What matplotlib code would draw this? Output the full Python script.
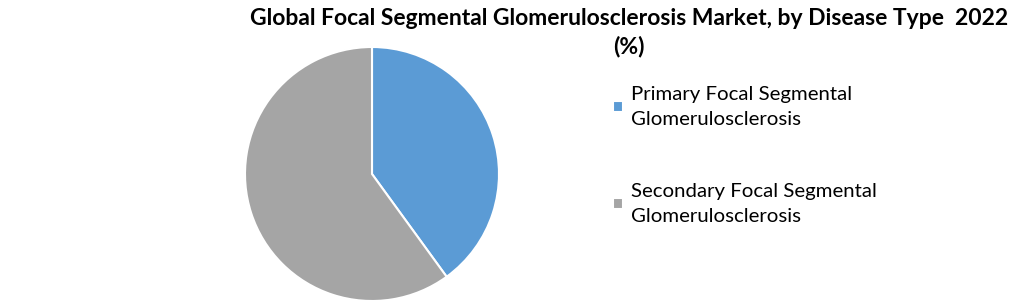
import matplotlib

matplotlib.use("Agg")
import matplotlib.pyplot as plt

TITLE = "Global Focal Segmental Glomerulosclerosis Market, by Disease Type  2022\n(%)"
LABELS = ["Primary Focal Segmental\nGlomerulosclerosis",
          "Secondary Focal Segmental\nGlomerulosclerosis"]
SHARES = [40.0, 60.0]
COLORS = ["#5b9bd5", "#a5a5a5"]

plt.rcParams["font.family"] = ["Lato", "DejaVu Sans"]

fig = plt.figure(figsize=(10.2, 3.03), dpi=100)
cx, cy, r = 372, 174, 127
ax = fig.add_axes([(cx - r) / 1020, (303 - cy - r) / 303, 2 * r / 1020, 2 * r / 303])
wedges, _ = ax.pie(SHARES, colors=COLORS, startangle=90, counterclock=False,
                   radius=1.0, wedgeprops={"edgecolor": "white", "linewidth": 1.5})
ax.set_xlim(-1, 1)
ax.set_ylim(-1, 1)
ax.set_aspect("equal")

fig.text(629 / 1020, 1 - 8 / 303, TITLE, ha="center", va="top",
         fontsize=16.5, fontweight="bold", linespacing=1.35)

leg = fig.legend(wedges, LABELS, loc="upper left",
                 bbox_to_anchor=(595 / 1020, 1 - 68 / 303), frameon=False,
                 fontsize=14.7, handlelength=0.45, handleheight=0.45,
                 handletextpad=0.4, labelspacing=2.7)
for t in leg.get_texts():
    t.set_linespacing(1.55)

fig.savefig("out.png", dpi=100)
